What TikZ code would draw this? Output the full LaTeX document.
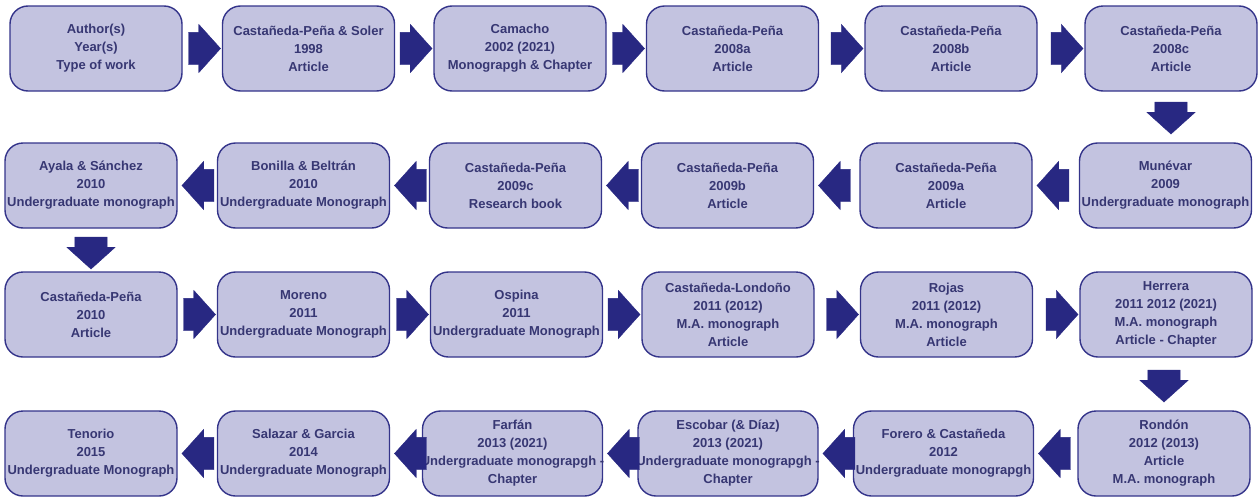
\documentclass[tikz,border=0pt]{standalone}
\usepackage{fontspec}
\setmainfont{Liberation Sans}
\usetikzlibrary{shapes.arrows,calc}
\definecolor{boxfill}{RGB}{195,195,224}
\definecolor{boxline}{RGB}{52,52,138}
\definecolor{arrowfill}{RGB}{40,40,130}
\definecolor{txt}{RGB}{55,55,115}
\begin{document}
\begin{tikzpicture}[x=1pt,y=-1pt,
 box/.style={draw=boxline, line width=1.4pt, fill=boxfill, rounded corners=18pt,
   minimum width=172pt, minimum height=85pt, inner sep=0pt, align=center,
   text=txt, font=\fontsize{13}{18}\selectfont\bfseries},
 widebox/.style={box, minimum width=180pt},
 barrow/.style={single arrow, fill=arrowfill, draw=arrowfill, line width=0.4pt,
   single arrow head extend=8pt, minimum height=32pt, single arrow tip angle=96,
   anchor=tip},
 rarr/.style={barrow, inner xsep=0pt, inner ysep=16pt, shape border rotate=0},
 larr/.style={barrow, inner xsep=0pt, inner ysep=16pt, shape border rotate=180},
 darr/.style={barrow, inner xsep=16pt, inner ysep=0pt, shape border rotate=270},
 ]
\useasboundingbox (0,0) rectangle (1258,498);
% Row 1
\node[box] (r1a) at (96,48.5) {Author(s)\\Year(s)\\Type of work};
\node[box] (r1b) at (308.5,48.5) {Castañeda-Peña \& Soler\\1998\\Article};
\node[box] (r1c) at (520,48.5) {Camacho\\2002 (2021)\\Monograpgh \& Chapter};
\node[box] (r1d) at (732.5,48.5) {Castañeda-Peña\\2008a\\Article};
\node[box] (r1e) at (951,48.5) {Castañeda-Peña\\2008b\\Article};
\node[box] (r1f) at (1171,48.5) {Castañeda-Peña\\2008c\\Article};
% Row 2
\node[box] (r2f) at (1165.5,185.5) {Munévar\\2009\\Undergraduate monograph};
\node[box] (r2e) at (946,185.5) {Castañeda-Peña\\2009a\\Article};
\node[box] (r2d) at (727.5,185.5) {Castañeda-Peña\\2009b\\Article};
\node[box] (r2c) at (515.5,185.5) {Castañeda-Peña\\2009c\\Research book};
\node[box] (r2b) at (303.5,185.5) {Bonilla \& Beltrán\\2010\\Undergraduate Monograph};
\node[box] (r2a) at (91,185.5) {Ayala \& Sánchez\\2010\\Undergraduate monograph};
% Row 3
\node[box] (r3a) at (91,314.5) {Castañeda-Peña\\2010\\Article};
\node[box] (r3b) at (303.5,314.5) {Moreno\\2011\\Undergraduate Monograph};
\node[box] (r3c) at (516.5,314.5) {Ospina\\2011\\Undergraduate Monograph};
\node[box] (r3d) at (728,314.5) {Castañeda-Londoño\\2011 (2012)\\M.A. monograph\\Article};
\node[box] (r3e) at (946.5,314.5) {Rojas\\2011 (2012)\\M.A. monograph\\Article};
\node[box] (r3f) at (1166,314.5) {Herrera\\2011 2012 (2021)\\M.A. monograph\\Article - Chapter};
% Row 4
\node[box] (r4f) at (1164,453.5) {Rondón\\2012 (2013)\\Article\\M.A. monograph};
\node[widebox] (r4e) at (943.5,453.5) {Forero \& Castañeda\\2012\\Undergraduate monograpgh};
\node[widebox] (r4d) at (728,453.5) {Escobar (\& Díaz)\\2013 (2021)\\\makebox[170pt]{Undergraduate monograpgh -}\\Chapter};
\node[widebox] (r4c) at (512.5,453.5) {Farfán\\2013 (2021)\\\makebox[170pt]{Undergraduate monograpgh -}\\Chapter};
\node[box] (r4b) at (303.5,453.5) {Salazar \& Garcia\\2014\\Undergraduate Monograph};
\node[box] (r4a) at (91,453.5) {Tenorio\\2015\\Undergraduate Monograph};
% Arrows row 1
\node[rarr] (x1) at ($(r1b.west)+(-1,0)$) {};
\node[rarr] (x2) at ($(r1c.west)+(-1,0)$) {};
\node[rarr] (x3) at ($(r1d.west)+(-1,0)$) {};
\node[rarr] (x4) at ($(r1e.west)+(-1,0)$) {};
\node[rarr] (x5) at ($(r1f.west)+(-1,0)$) {};
\node[darr] (x6) at ($(r2f.north -| r1f.south)+(0,-8)$) {};
% Arrows row 2
\node[larr] (y1) at ($(r2e.east)+(4,0)$) {};
\node[larr] (y2) at ($(r2d.east)+(4,0)$) {};
\node[larr] (y3) at ($(r2c.east)+(4,0)$) {};
\node[larr] (y4) at ($(r2b.east)+(4,0)$) {};
\node[larr] (y5) at ($(r2a.east)+(4,0)$) {};
\node[darr] (y6) at ($(r3a.north)+(0,-2)$) {};
% Arrows row 3
\node[rarr] (z1) at ($(r3b.west)+(-1,0)$) {};
\node[rarr] (z2) at ($(r3c.west)+(-1,0)$) {};
\node[rarr] (z3) at ($(r3d.west)+(-1,0)$) {};
\node[rarr] (z4) at ($(r3e.west)+(-1,0)$) {};
\node[rarr] (z5) at ($(r3f.west)+(-1,0)$) {};
\node[darr] (z6) at ($(r4f.north)+(0,-8)$) {};
% Arrows row 4
\node[larr] (w1) at ($(r4e.east)+(4,0)$) {};
\node[larr] (w2) at ($(r4d.east)+(4,0)$) {};
\node[larr] (w3) at ($(r4c.east)+(4,0)$) {};
\node[larr] (w4) at ($(r4b.east)+(4,0)$) {};
\node[larr] (w5) at ($(r4a.east)+(4,0)$) {};
\end{tikzpicture}
\end{document}
